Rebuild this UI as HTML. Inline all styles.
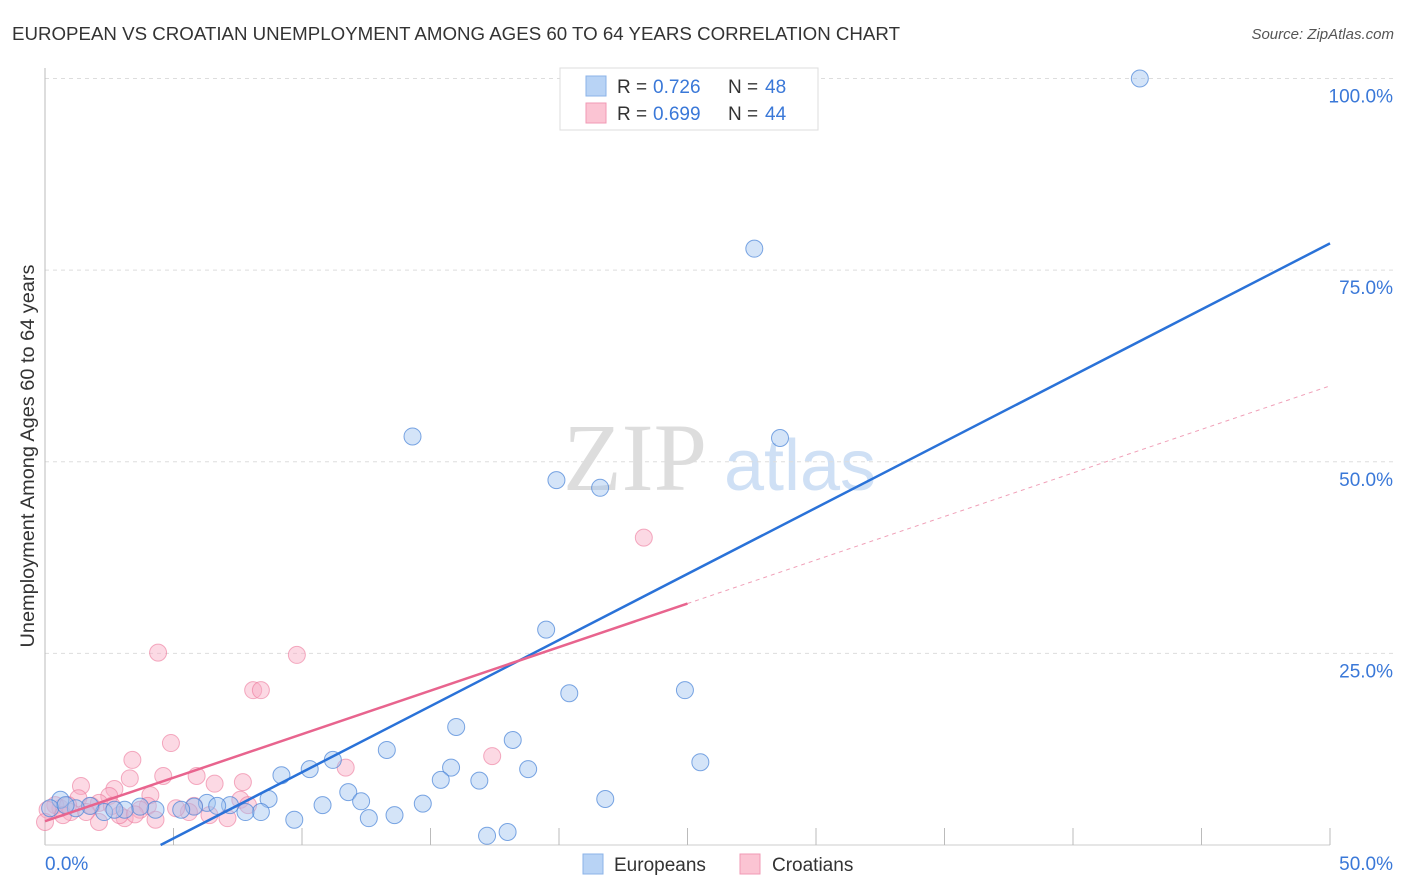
<!DOCTYPE html>
<html><head><meta charset="utf-8"><style>
body{margin:0;background:#fff;font-family:"Liberation Sans",sans-serif}
svg{display:block}
</style></head><body>
<svg id="chart" width="1406" height="892">
<text x="12" y="40" font-size="18" fill="#333" textLength="888" lengthAdjust="spacingAndGlyphs">EUROPEAN VS CROATIAN UNEMPLOYMENT AMONG AGES 60 TO 64 YEARS CORRELATION CHART</text>
<text x="1394" y="39" font-size="15" fill="#555" font-style="italic" text-anchor="end">Source: ZipAtlas.com</text>
<g>
<text x="635" y="490" font-size="96" font-family="Liberation Serif,serif" fill="#ddd" text-anchor="middle">ZIP</text>
<text x="800" y="490" font-size="72" fill="#cfe0f5" text-anchor="middle">atlas</text>
</g>
<g id="grid"></g>
<g id="axes"></g>
<g id="pts"></g>
<g id="trend"></g>
<text transform="translate(34,456) rotate(-90)" font-size="19" fill="#333" text-anchor="middle" textLength="383" lengthAdjust="spacingAndGlyphs">Unemployment Among Ages 60 to 64 years</text>
<g>
<rect x="560" y="68" width="258" height="62" fill="#fff" stroke="#ddd"/>
<rect x="586" y="76" width="20" height="20" fill="#b8d3f5" stroke="#8bb3e8"/>
<text x="617" y="93" font-size="19" fill="#333">R = </text>
<text x="653" y="93" font-size="19" fill="#3a78d8">0.726</text>
<text x="728" y="93" font-size="19" fill="#333">N = </text>
<text x="765" y="93" font-size="19" fill="#3a78d8">48</text>
<rect x="586" y="103" width="20" height="20" fill="#fbc4d3" stroke="#f09ab4"/>
<text x="617" y="120" font-size="19" fill="#333">R = </text>
<text x="653" y="120" font-size="19" fill="#3a78d8">0.699</text>
<text x="728" y="120" font-size="19" fill="#333">N = </text>
<text x="765" y="120" font-size="19" fill="#3a78d8">44</text>
</g>
<g>
<rect x="583" y="854" width="20" height="20" fill="#b8d3f5" stroke="#8bb3e8"/>
<text x="614" y="871" font-size="19" fill="#333">Europeans</text>
</g>
<g>
<rect x="740" y="854" width="20" height="20" fill="#fbc4d3" stroke="#f09ab4"/>
<text x="772" y="871" font-size="19" fill="#333">Croatians</text>
</g>
</svg>
<script>
const yTicks=[25,50,75,100];
const yTickLabels=["25.0%","50.0%","75.0%","100.0%"];
const xTicks=[5,10,15,20,25,30,35,40,45,50];
const euroX=[42.6,27.6,14.3,28.6,19.9,21.6,19.5,20.4,24.9,16.0,18.2,13.3,25.5,11.2,10.3,9.2,15.8,18.8,15.4,16.9,11.8,8.7,12.3,21.8,10.8,14.7,7.2,6.3,12.6,13.6,9.7,8.4,7.8,6.7,5.8,5.3,4.3,3.7,3.1,2.3,1.75,1.2,0.6,0.2,17.2,18.0,2.7,0.8];
const euroY=[100,77.8,53.3,53.1,47.6,46.6,28.1,19.8,20.2,15.4,13.7,12.4,10.8,11.1,9.9,9.1,10.1,9.9,8.5,8.4,6.9,6.0,5.7,6.0,5.2,5.4,5.2,5.5,3.5,3.9,3.3,4.3,4.3,5.1,5.0,4.6,4.6,5.0,4.6,4.3,5.1,4.8,5.9,4.8,1.2,1.7,4.6,5.2];
const croX=[23.3,4.4,9.8,8.1,8.4,17.4,4.9,3.4,11.7,4.6,5.9,3.3,7.7,6.6,1.4,2.7,4.1,2.5,1.3,5.8,4.0,7.6,2.1,1.8,0.6,0.4,0.1,1.0,3.1,4.3,2.9,2.1,6.4,7.1,5.6,3.7,1.6,0.9,2.6,5.1,0,0.7,3.5,7.9];
const croY=[40.1,25.1,24.8,20.2,20.2,11.6,13.3,11.1,10.1,9.0,9.0,8.7,8.2,8.0,7.7,7.3,6.5,6.4,6.1,5.1,5.1,5.9,5.5,5.1,4.8,5.2,4.6,4.3,3.5,3.3,3.9,3.0,3.9,3.5,4.3,4.6,4.3,5.2,5.1,4.8,3.0,3.9,4.0,5.2];
const euroFit=[1.725,-7.76];
const croFit=[1.136,3.1];
const NS="http://www.w3.org/2000/svg";
const X=v=>45+v/50*1285, Y=v=>845-v*7.665;
function mk(t,a,p){const e=document.createElementNS(NS,t);for(const k in a)e.setAttribute(k,a[k]);document.getElementById(p).appendChild(e);return e;}
yTicks.forEach((t,i)=>{
 const l=mk('line',{x1:45,x2:1393,y1:Y(t),y2:Y(t),stroke:'#ddd','stroke-dasharray':'4,4'},'grid');
 
 
 const tx=mk('text',{x:1393,y:Y(t)+24,'font-size':19,fill:'#3a78d8','text-anchor':'end'},'grid');tx.textContent=yTickLabels[i];
 
 
});
const ax=mk('line',{x1:45,x2:45,y1:68,y2:845,stroke:'#bbb'},'axes');


const bx=mk('line',{x1:45,x2:1330,y1:845,y2:845,stroke:'#ccc'},'axes');


xTicks.forEach(t=>{const l=mk('line',{x1:X(t),x2:X(t),y1:828,y2:845,stroke:'#bbb'},'axes');
 
 });
const x0=mk('text',{x:45,y:870,'font-size':19,fill:'#3a78d8'},'axes');x0.textContent='0.0%';


const x1=mk('text',{x:1393,y:870,'font-size':19,fill:'#3a78d8','text-anchor':'end'},'axes');x1.textContent='50.0%';


croX.forEach((v,i)=>{const c=mk('circle',{cx:X(v),cy:Y(croY[i]),r:8.5,fill:'rgba(248,170,195,0.45)',stroke:'rgba(236,120,155,0.6)'},'pts');
 
 });
euroX.forEach((v,i)=>{const c=mk('circle',{cx:X(v),cy:Y(euroY[i]),r:8.5,fill:'rgba(160,195,240,0.45)',stroke:'rgba(70,130,215,0.7)'},'pts');
 
 });
const xs=-euroFit[1]/euroFit[0];
const bl=mk('line',{x1:X(xs),y1:Y(0),x2:X(50),y2:Y(euroFit[0]*50+euroFit[1]),stroke:'#2a72d8','stroke-width':2.5},'trend');


const pl=mk('line',{x1:X(0),y1:Y(croFit[1]),x2:X(25),y2:Y(croFit[0]*25+croFit[1]),stroke:'#e8648e','stroke-width':2.5},'trend');


const pd=mk('line',{x1:X(25),y1:Y(croFit[0]*25+croFit[1]),x2:X(50),y2:Y(croFit[0]*50+croFit[1]),stroke:'#f0a0b8','stroke-width':1,'stroke-dasharray':'4,4'},'trend');


</script>
</body></html>
